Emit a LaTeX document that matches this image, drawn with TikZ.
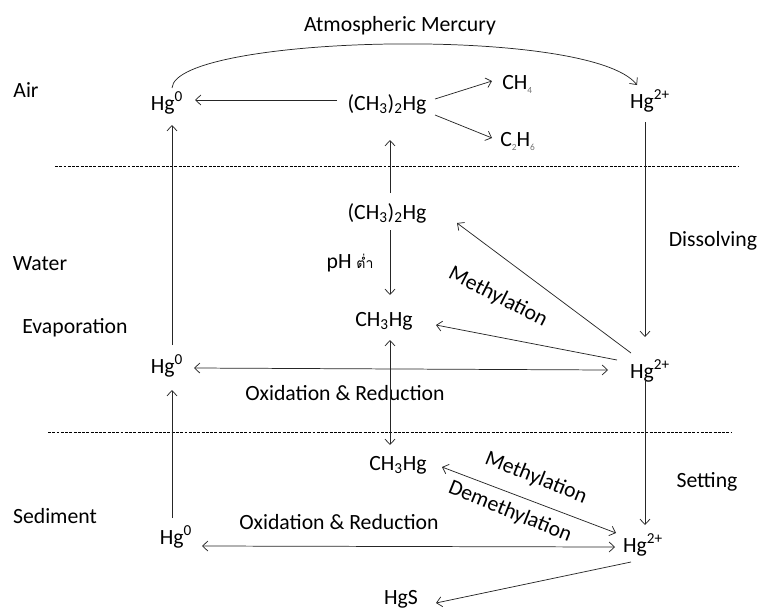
\documentclass[tikz,border=0pt]{standalone}
\usepackage{fontspec}
\setmainfont{Carlito}
\newfontfamily\thaifont[Script=Thai]{Loma}
\usetikzlibrary{calc,arrows.meta}
\begin{document}
\begin{tikzpicture}[x=0.75pt,y=-0.75pt,
  every node/.style={inner sep=0pt,font=\fontsize{16.3}{19}\selectfont},
  conn/.style={line width=0.55pt,draw=black!85,arrows={-}},
  tip/.tip={Straight Barb[length=4pt,width=7.5pt,line width=0.55pt]},
  sep/.style={line width=0.45pt,dash pattern=on 2.2pt off 1pt}]
\useasboundingbox (0,0) rectangle (760,611);
% labels
\node (atm) at (400,26) {Atmospheric Mercury};
\node (air) at (26,90) {Air};
\node (wat) at (40,264) {Water};
\node (evap) at (75,328) {Evaporation};
\node (sed) at (55,516) {Sediment};
\node (diss) at (713,241) {Dissolving};
\node (sett) at (707,482) {Setting};
% species
\node (hg0a) at (167,103) {Hg\textsuperscript{0}};
\node (dma) at (387,104) {(CH\textsubscript{3})\textsubscript{2}Hg};
\node[anchor=west] (ch4) at (502,84) {CH{\fontsize{7}{8}\selectfont\raisebox{-3pt}{\color{black!55}4}}};
\node[anchor=west] (c2h6) at (500,141) {C{\fontsize{7}{8}\selectfont\raisebox{-3pt}{\color{black!55}2}}H{\fontsize{7}{8}\selectfont\raisebox{-3pt}{\color{black!55}6}}};
\node (hg2a) at (650,101) {Hg\textsuperscript{2+}};
\node (dmw) at (387,213) {(CH\textsubscript{3})\textsubscript{2}Hg};
\node (ph) at (350,263) {pH {\thaifont\fontsize{10.5}{12}\selectfont ต่ำ}};
\node (mew) at (384,321) {CH\textsubscript{3}Hg};
\node (hg0w) at (167,366) {Hg\textsuperscript{0}};
\node (hg2w) at (650,371) {Hg\textsuperscript{2+}};
\node (oxw) at (345,393) {Oxidation \& Reduction};
\node (mes) at (398,465) {CH\textsubscript{3}Hg};
\node (hg0s) at (176,537) {Hg\textsuperscript{0}};
\node (hg2s) at (643,545) {Hg\textsuperscript{2+}};
\node (oxs) at (339,522) {Oxidation \& Reduction};
\node (hgs) at (401,599) {HgS};
\node[rotate=-27] (methw) at (498,297) {Methylation};
\node[rotate=-22] (meths) at (536,478) {Methylation};
\node[rotate=-22] (demeths) at (510,512) {Demethylation};
% separators
\coordinate (s1a) at (55,166); \coordinate (s1b) at (738,166);
\coordinate (s2a) at (48,432); \coordinate (s2b) at (732,432);
\draw[sep] (s1a) -- (s1b);
\draw[sep] (s2a) -- (s2b);
% connectors
\draw[conn,-tip] ($(hg0a)+(5,-15)$) .. controls ($(hg0a)+(8,-68)$) and ($(hg2a)+(-60,-76)$) .. ($(hg2a)+(-13,-16)$);
\draw[conn,-tip] ($(dma)+(-50,-4)$) -- ($(hg0a)+(28,-3)$);
\draw[conn,-tip] ($(dma)+(48,-5)$) -- ($(ch4.west)+(-10,-3)$);
\draw[conn,-tip] ($(dma)+(48,11)$) -- ($(c2h6.west)+(-8,-3)$);
\draw[conn,-tip] ($(dmw)+(3,-20)$) -- ($(dma)+(3,36)$);
\draw[conn,-tip] ($(dmw)+(3,17)$) -- ($(mew)+(6,-26)$);
\draw[conn,-tip] ($(hg0w)+(5,-21)$) -- ($(hg0a)+(5,22)$);
\draw[conn,tip-tip] ($(hg0w)+(27,2)$) -- ($(hg2w)+(-42,-1)$);
\draw[conn,-tip] ($(hg2a)+(-5,21)$) -- ($(hg2w)+(-5,-34)$);
\draw[conn,-tip] ($(hg2w)+(-19,-18)$) -- ($(dmw)+(70,10)$);
\draw[conn,-tip] ($(hg2w)+(-33,-11)$) -- ($(mew)+(52,4)$);
\draw[conn,tip-tip] ($(mew)+(6,19)$) -- ($(mes)+(-8,-20)$);
\draw[conn,-tip] ($(hg0s)+(-4,-19)$) -- ($(hg0w)+(5,24)$);
\draw[conn,-tip] ($(hg2w)+(-5,9)$) -- ($(hg2s)+(2,-20)$);
\draw[conn,tip-tip] ($(mes)+(44,2)$) -- ($(hg2s)+(-27,-12)$);
\draw[conn,tip-tip] ($(hg0s)+(26,9)$) -- ($(hg2s)+(-28,2)$);
\draw[conn,-tip] ($(hg2s)+(-12,17)$) -- ($(hgs)+(35,4)$);
\end{tikzpicture}
\end{document}
